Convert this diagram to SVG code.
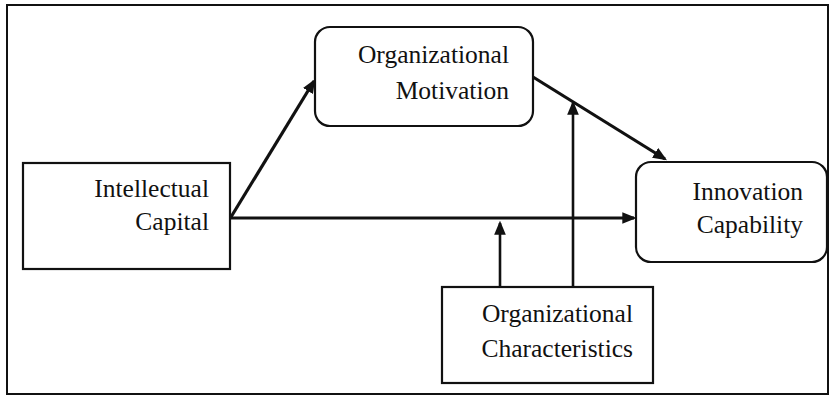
<svg xmlns="http://www.w3.org/2000/svg" width="831" height="397" viewBox="0 0 831 397">
<style>
.box{fill:#fff;stroke:#111;stroke-width:2.2}
.lbl{font-family:"Liberation Serif","Times New Roman","DejaVu Serif",serif;font-size:25.5px;fill:#111;text-anchor:end}
.con{stroke:#111;stroke-width:3.2;fill:none}
.thin{stroke:#111;stroke-width:2.6;fill:none}
</style>
<defs>
<marker id="ah" viewBox="0 0 12 10" refX="10" refY="5" markerWidth="14" markerHeight="12" markerUnits="userSpaceOnUse" orient="auto">
<path d="M0,0 L12,5 L0,10 z" fill="#111"/>
</marker>
</defs>
<rect x="0" y="0" width="831" height="397" fill="#fff"/>
<rect x="7" y="5" width="821" height="389" fill="none" stroke="#111" stroke-width="2"/>
<g id="connectors">
<line class="con" x1="231" y1="217" x2="314" y2="81" marker-end="url(#ah)"/>
<line class="con" x1="231" y1="218" x2="634" y2="218" marker-end="url(#ah)"/>
<line class="con" x1="533" y1="77" x2="665" y2="159" marker-end="url(#ah)"/>
<line class="thin" x1="573" y1="287" x2="573" y2="103" marker-end="url(#ah)"/>
<line class="thin" x1="500" y1="287" x2="500" y2="223" marker-end="url(#ah)"/>
</g>
<g id="intellectual-capital">
<rect class="box" x="23" y="163" width="207" height="106"/>
<text class="lbl" x="209" y="197">Intellectual</text>
<text class="lbl" x="209" y="230">Capital</text>
</g>
<g id="organizational-motivation">
<rect class="box" x="315" y="27" width="218" height="99" rx="15"/>
<text class="lbl" x="509" y="63">Organizational</text>
<text class="lbl" x="509" y="99">Motivation</text>
</g>
<g id="innovation-capability">
<rect class="box" x="636" y="162" width="191" height="100" rx="15"/>
<text class="lbl" x="803" y="200">Innovation</text>
<text class="lbl" x="803" y="233">Capability</text>
</g>
<g id="organizational-characteristics">
<rect class="box" x="442" y="287" width="211" height="96"/>
<text class="lbl" x="633" y="322">Organizational</text>
<text class="lbl" x="633" y="357">Characteristics</text>
</g>
</svg>
